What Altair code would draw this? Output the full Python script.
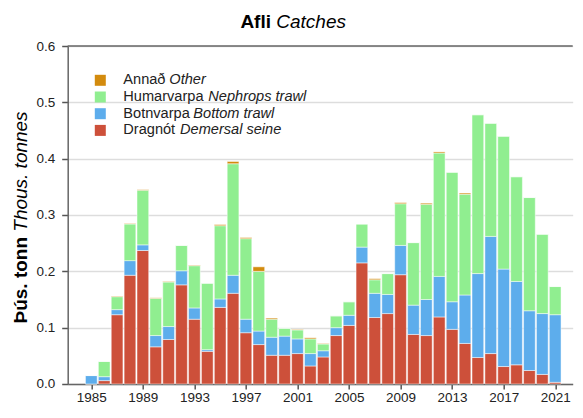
import altair as alt
import pandas as pd

years = list(range(1985, 2022))
seine = [0.0, 0.006, 0.123, 0.193, 0.237, 0.066, 0.079, 0.176, 0.115, 0.058, 0.136, 0.161,
         0.091, 0.070, 0.051, 0.051, 0.054, 0.032, 0.048, 0.086, 0.104, 0.215, 0.118, 0.125,
         0.194, 0.088, 0.086, 0.119, 0.097, 0.072, 0.047, 0.054, 0.031, 0.034, 0.024, 0.017, 0.003]
bottom = [0.015, 0.007, 0.009, 0.026, 0.010, 0.020, 0.023, 0.025, 0.020, 0.003, 0.015, 0.032,
          0.024, 0.024, 0.032, 0.034, 0.026, 0.022, 0.011, 0.014, 0.018, 0.028, 0.043, 0.034,
          0.052, 0.052, 0.064, 0.072, 0.049, 0.086, 0.149, 0.208, 0.173, 0.148, 0.106, 0.108, 0.120]
nephrops = [0.0, 0.027, 0.023, 0.065, 0.097, 0.066, 0.079, 0.045, 0.075, 0.118, 0.130, 0.198,
            0.143, 0.106, 0.032, 0.014, 0.016, 0.026, 0.012, 0.021, 0.024, 0.041, 0.024, 0.037,
            0.074, 0.111, 0.169, 0.219, 0.230, 0.179, 0.282, 0.201, 0.236, 0.186, 0.201, 0.141, 0.050]
other = [0.0, 0.0, 0.001, 0.001, 0.001, 0.001, 0.001, 0.0, 0.001, 0.0, 0.002, 0.004,
         0.002, 0.008, 0.002, 0.0, 0.001, 0.002, 0.001, 0.0, 0.0, 0.0, 0.002, 0.0,
         0.002, 0.0, 0.002, 0.002, 0.0, 0.002, 0.0, 0.0, 0.0, 0.0, 0.0, 0.0, 0.0]

gears = ["seine", "bottom", "nephrops", "other"]
labels_is = ["Dragnót", "Botnvarpa", "Humarvarpa", "Annað"]
labels_en = ["Demersal seine", "Bottom trawl", "Nephrops trawl", "Other"]
colors = ["#CD503A", "#5DADEC", "#90EE90", "#D38B0E"]
x_ticks = list(range(1985, 2022, 4))
y_ticks = [0.0, 0.1, 0.2, 0.3, 0.4, 0.5, 0.6]

series = [seine, bottom, nephrops, other]
rows = []
for gi, (g, vals) in enumerate(zip(gears, series)):
    for y, v in zip(years, vals):
        rows.append({"year": y, "gear": g, "value": v, "order": gi})
df = pd.DataFrame(rows)

FONT = "Liberation Sans"
W, H = 505, 338

bars = alt.Chart(df).transform_stack(
    stack="value", groupby=["year"], sort=[alt.SortField("order", order="ascending")],
    as_=["v0", "v1"]
).mark_bar(width=11.7, stroke="white", strokeWidth=0.8, strokeOpacity=0.6).encode(
    x=alt.X("year:Q", scale=alt.Scale(domain=[1983.555, 2021.97], nice=False, zero=False),
            axis=alt.Axis(values=x_ticks, format="d", title=None, grid=False, labelFlush=False,
                          tickSize=5, labelPadding=2)),
    y=alt.Y("v0:Q", scale=alt.Scale(domain=[0, 0.6], nice=False),
            axis=alt.Axis(values=y_ticks, format=".1f", title=None, grid=True,
                          tickSize=6, labelPadding=7)),
    y2="v1:Q",
    color=alt.Color("gear:N", scale=alt.Scale(domain=gears, range=colors), legend=None),
)

top_rule = alt.Chart(pd.DataFrame({"v": [y_ticks[-1]]})).mark_rule(
    color="#666666", strokeWidth=1.5).encode(y=alt.Y("v:Q"))

layers = [bars, top_rule]

# Legend (manual, to allow mixed regular / italic labels)
legend_order = [3, 2, 1, 0]
en_dx = {3: 46, 2: 85, 1: 70, 0: 56.7}
for row, gi in enumerate(legend_order):
    ypos = 34.3 + row * 16.7
    sq = alt.Chart(pd.DataFrame({"g": [gears[gi]]})).mark_square(size=121, opacity=1).encode(
        x=alt.value(32.6), y=alt.value(ypos),
        color=alt.Color("g:N", scale=alt.Scale(domain=gears, range=colors), legend=None))
    t1 = alt.Chart(pd.DataFrame({"t": [labels_is[gi]]})).mark_text(
        align="left", baseline="middle", font=FONT, fontSize=14.6, color="#222222").encode(
        text="t:N", x=alt.value(55.6), y=alt.value(ypos))
    t2 = alt.Chart(pd.DataFrame({"t": [labels_en[gi]]})).mark_text(
        align="left", baseline="middle", font=FONT, fontSize=14.6, fontStyle="italic",
        color="#222222").encode(
        text="t:N", x=alt.value(55.6 + en_dx[gi]), y=alt.value(ypos))
    layers += [sq, t1, t2]

# Title (bold + italic)
title_b = alt.Chart(pd.DataFrame({"t": ["Afli"]})).mark_text(
    align="right", baseline="alphabetic", font=FONT, fontSize=19, fontWeight="bold",
    color="black").encode(text="t:N", x=alt.value(203.3), y=alt.value(-17.7))
title_i = alt.Chart(pd.DataFrame({"t": ["Catches"]})).mark_text(
    align="left", baseline="alphabetic", font=FONT, fontSize=19, fontStyle="italic",
    color="black").encode(text="t:N", x=alt.value(208.6), y=alt.value(-17.7))

# Y axis title (bold + italic), rotated
ytitle_b = alt.Chart(pd.DataFrame({"t": ["Þús. tonn"]})).mark_text(
    align="right", baseline="middle", angle=270, font=FONT, fontSize=19, fontWeight="bold",
    color="black").encode(text="t:N", x=alt.value(-47), y=alt.value(191))
ytitle_i = alt.Chart(pd.DataFrame({"t": ["Thous. tonnes"]})).mark_text(
    align="left", baseline="middle", angle=270, font=FONT, fontSize=19, fontStyle="italic",
    color="black").encode(text="t:N", x=alt.value(-47), y=alt.value(185.7))

layers += [title_b, title_i, ytitle_b, ytitle_i]

chart = alt.layer(*layers).properties(
    width=W, height=H,
    autosize=alt.AutoSizeParams(type="none"),
    padding={"left": 59.7, "top": 38, "right": 2, "bottom": 24},
).configure_view(
    stroke=None
).configure_axis(
    domainColor="#666666", domainWidth=1.5, tickColor="#555555", tickWidth=1.5,
    labelFont=FONT, labelFontSize=13.5, labelColor="#222222",
    gridColor="#dddddd", gridWidth=1.5
)

chart.save("out.html", embed_options={"renderer": "svg", "actions": False})
